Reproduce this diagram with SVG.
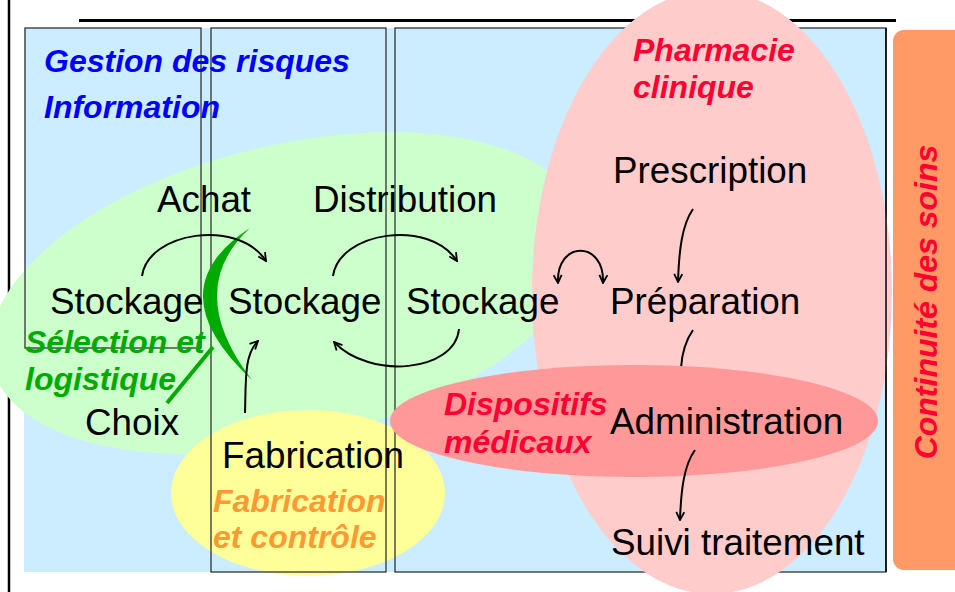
<svg xmlns="http://www.w3.org/2000/svg" width="955" height="592" viewBox="0 0 955 592">
<style>
.t{font-family:"Liberation Sans",Arial,sans-serif;font-size:36.8px;fill:#000}
.l{font-family:"Liberation Sans",Arial,sans-serif;font-size:32px;font-weight:bold;font-style:italic}
.box{fill:none;stroke:#333;stroke-width:1.3}
.arr{fill:none;stroke:#000;stroke-width:2}
</style>
<defs>
<marker id="ah" viewBox="0 0 10 10" refX="9" refY="5" markerWidth="10" markerHeight="10" markerUnits="userSpaceOnUse" orient="auto-start-reverse">
<path d="M1,1 L9,5 L1,9" fill="none" stroke="#000" stroke-width="1.8"/>
</marker>
</defs>
<rect width="955" height="592" fill="#fff"/>
<line x1="9" y1="0" x2="9" y2="592" stroke="#000" stroke-width="2.5"/>
<line x1="79" y1="20.5" x2="896" y2="20.5" stroke="#000" stroke-width="3"/>
<g id="background">
<rect x="24" y="28" width="862" height="544" fill="#CCECFF"/>
</g>
<g id="selection-logistique">
<ellipse cx="288" cy="293" rx="305" ry="148" transform="rotate(-13.7 288 293)" fill="#CCFFCC"/>
</g>
<g id="fabrication-controle">
<ellipse cx="308" cy="493" rx="137" ry="83" fill="#FFFF99"/>
</g>
<g id="boxes">
<rect class="box" x="25" y="28" width="176" height="320"/>
<rect class="box" x="211" y="28" width="175" height="544"/>
</g>
<g id="pharmacie-clinique">
<rect class="box" x="395" y="28" width="491" height="544"/>
<ellipse cx="712" cy="292" rx="180" ry="302" fill="#FFCCCC"/>
<line x1="886" y1="28" x2="886" y2="572" stroke="#000" stroke-width="1.5"/>
</g>
<g id="connector-hidden">
<path class="arr" d="M693,330 C686,340 682,352 681,368"/>
</g>
<g id="dispositifs-medicaux">
<ellipse cx="634" cy="421" rx="244" ry="56" fill="#FF9999"/>
</g>
<g id="continuite">
<rect x="893" y="30" width="80" height="540" rx="11" fill="#FF9966"/>
<text class="l" transform="translate(937 302) rotate(-90)" text-anchor="middle" fill="#FF0033">Continuité des soins</text>
</g>
<g id="crescent">
<path d="M250,228 Q155,290 252,380 Q183,290 250,228 Z" fill="#00AA00"/>
<line x1="167" y1="403" x2="213" y2="347" stroke="#00AA00" stroke-width="4"/>
</g>
<g id="labels">
<text class="l" x="44" y="72" fill="#0000FF">Gestion des risques</text>
<text class="l" x="44" y="118" fill="#0000FF">Information</text>
<text class="l" x="633" y="61" fill="#FF0033">Pharmacie</text>
<text class="l" x="633" y="98" fill="#FF0033">clinique</text>
<text class="l" x="25" y="353" fill="#00AA00">Sélection et</text>
<text class="l" x="25" y="390" fill="#00AA00">logistique</text>
<text class="l" x="444" y="415" fill="#FF0033">Dispositifs</text>
<text class="l" x="444" y="453" fill="#FF0033">médicaux</text>
<text class="l" x="213" y="512" fill="#FF9933">Fabrication</text>
<text class="l" x="213" y="548" fill="#FF9933">et contrôle</text>
</g>
<g id="n-achat"><text class="t" x="157" y="212">Achat</text></g>
<g id="n-distribution"><text class="t" x="313" y="212">Distribution</text></g>
<g id="n-prescription"><text class="t" x="613" y="183">Prescription</text></g>
<g id="n-stockage1"><text class="t" x="50" y="314">Stockage</text></g>
<g id="n-stockage2"><text class="t" x="228" y="314">Stockage</text></g>
<g id="n-stockage3"><text class="t" x="406" y="314">Stockage</text></g>
<g id="n-preparation"><text class="t" x="610" y="314">Préparation</text></g>
<g id="n-choix"><text class="t" x="85" y="435">Choix</text></g>
<g id="n-fabrication"><text class="t" x="222" y="468">Fabrication</text></g>
<g id="n-administration"><text class="t" x="610" y="434">Administration</text></g>
<g id="n-suivi"><text class="t" x="611" y="555">Suivi traitement</text></g>
<g id="connectors">
<path class="arr" d="M142,276 C148,232 238,218 266,261" marker-end="url(#ah)"/>
<path class="arr" d="M333,276 C339,232 429,218 457,261" marker-end="url(#ah)"/>
<path class="arr" d="M459,329 C455,372 370,380 334,342" marker-end="url(#ah)"/>
<path class="arr" d="M558,283 C556,240 605,240 603,283" marker-start="url(#ah)" marker-end="url(#ah)"/>
<path class="arr" d="M245,413 C246,380 244,355 258,341" marker-end="url(#ah)"/>
<path class="arr" d="M693,209 C682,225 679,250 678,282" marker-end="url(#ah)"/>
<path class="arr" d="M695,450 C684,465 681,490 680,520" marker-end="url(#ah)"/>
</g>
</svg>
